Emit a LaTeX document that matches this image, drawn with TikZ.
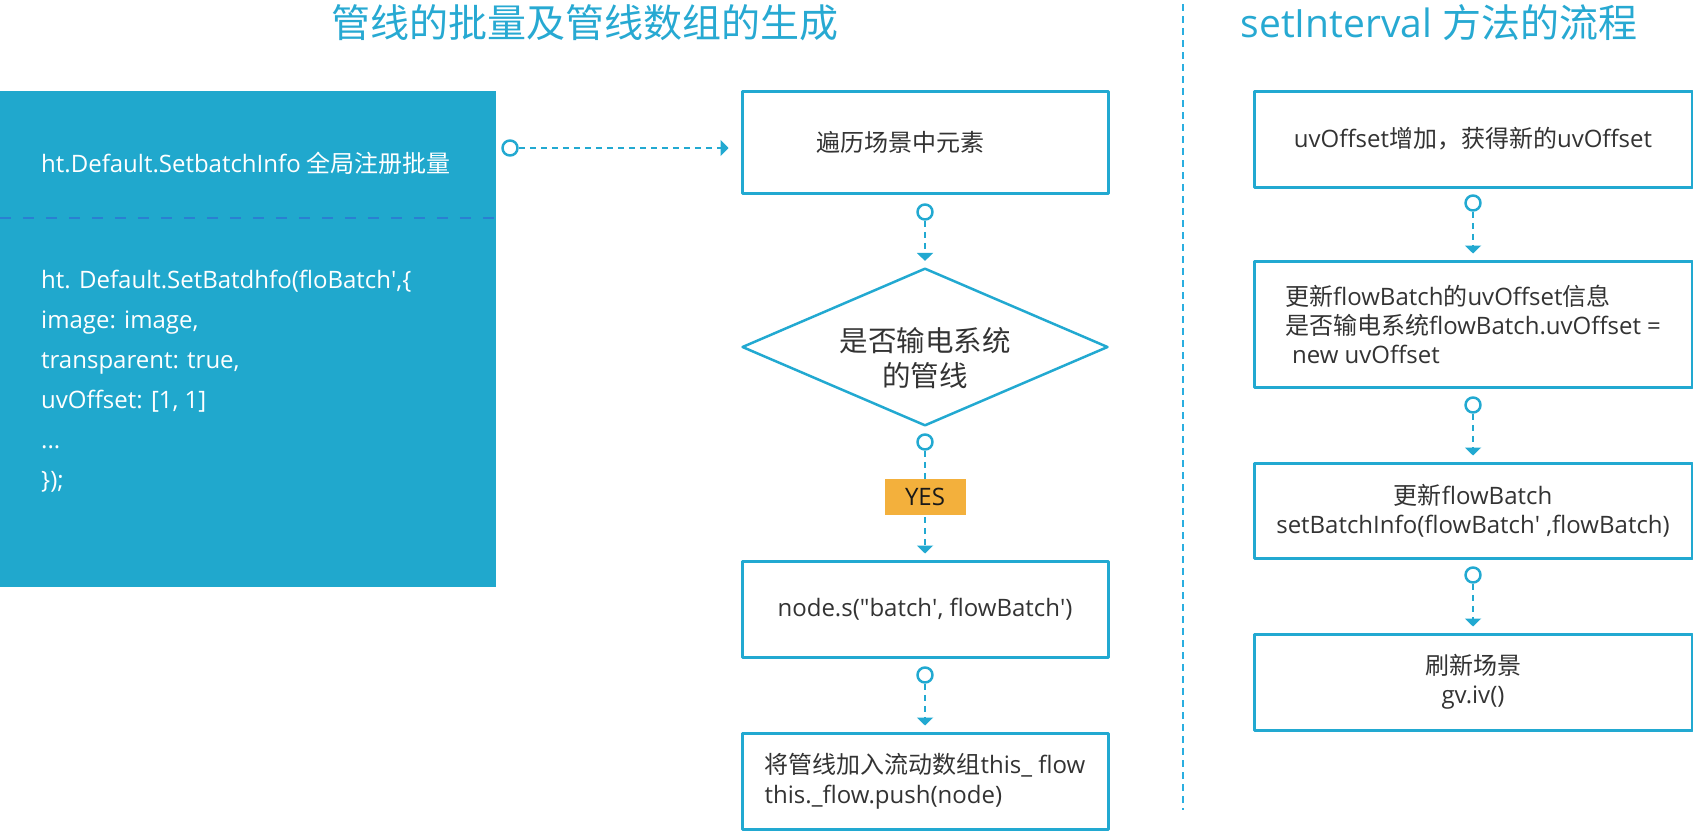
\documentclass[tikz,border=0pt]{standalone}
\usepackage{fontspec}
\setmainfont{Open Sans}
\newfontfamily\cjkfont{Noto Sans CJK SC}
\usetikzlibrary{arrows.meta,shapes.geometric}

% Chinese characters in the CJK font, the rest in Open Sans
\XeTeXinterchartokenstate=1
\chardef\cjkclass=7
\newcount\cjkcode
\cjkcode="3000
\loop
  \XeTeXcharclass\cjkcode=\cjkclass
  \ifnum\cjkcode<"9FFF \advance\cjkcode by 1
\repeat
\cjkcode="FF00
\loop
  \XeTeXcharclass\cjkcode=\cjkclass
  \ifnum\cjkcode<"FFEF \advance\cjkcode by 1
\repeat
\XeTeXinterchartoks 0 \cjkclass={\cjkfont}
\XeTeXinterchartoks 4095 \cjkclass={\cjkfont}
\XeTeXinterchartoks \cjkclass 0={\rmfamily}
\XeTeXinterchartoks \cjkclass 4095={\rmfamily}

\newcommand{\dotsrow}{...}

\definecolor{linec}{HTML}{22A9D1}
\definecolor{panelc}{HTML}{20A8CD}
\definecolor{sepc}{HTML}{2A7FD2}
\definecolor{divc}{HTML}{2AAEE0}
\definecolor{titlec}{HTML}{27A9D2}
\definecolor{yesc}{HTML}{F3B03C}
\definecolor{txtc}{HTML}{333333}

\tikzset{
  stepbox/.style={draw=linec, line width=3pt, minimum width=366pt, minimum height=96pt,
    inner sep=0pt, text=txtc, font=\fontsize{24}{30}\selectfont},
  sidebox/.style={stepbox, minimum width=438pt},
  decision/.style={diamond, draw=linec, line width=2.5pt, minimum width=366pt, minimum height=156pt,
    aspect=2.3, inner sep=0pt, text=txtc, align=center, font=\fontsize{28.5}{35}\selectfont},
  port/.style={circle, draw=linec, line width=2.5pt, minimum size=15pt, inner sep=0pt, fill=white},
  link/.style={draw=linec, line width=2.5pt, dash pattern=on 6pt off 5pt,
    -{Triangle[width=16pt,length=8pt]}, shorten >=6pt},
  yesbox/.style={fill=yesc, minimum width=81pt, minimum height=36pt, inner sep=0pt,
    text=black!90, font=\fontsize{24}{28}\selectfont},
  heading/.style={text=titlec, inner sep=0pt, font=\fontsize{39}{44}\selectfont},
  codeline/.style={anchor=base west, inner sep=0pt, text=white, font=\fontsize{24}{30}\selectfont}
}

\begin{document}
\begin{tikzpicture}[x=1pt, y=-1pt, line join=round]
\useasboundingbox (0,0) rectangle (1693,830);

% titles and divider
\node[heading] (t1) at (585,23) {管线的批量及管线数组的生成};
\node[heading] (t2) at (1439,23) {setInterval 方法的流程};
\draw[divc, line width=2.5pt, dash pattern=on 7pt off 5pt] (1183,4) -- (1183,810);

% left panel
\node[fill=panelc, minimum width=496pt, minimum height=496pt, inner sep=0pt] (pnl) at (248,339) {};
\draw[sepc, line width=2pt, dash pattern=on 11pt off 12pt] (pnl.west |- 0,218) -- (pnl.east |- 0,218);
\node[codeline] (phead) at (41,172) {ht.Default.SetbatchInfo 全局注册批量};
\foreach \codetxt [count=\i] in {{ht. Default.SetBatdhfo(floBatch\textquotesingle,\{},
    {image: image,}, {transparent: true,}, {uvOffset: [1, 1]}, {\dotsrow}, {\});}}
  \node[codeline] (code\i) at (41,248+40*\i) {\codetxt};

% middle flow
\node[stepbox, minimum height=102pt] (a1) at (925,142) {遍历场景中元素\hspace*{50pt}};
\node[decision] (dec) at (925,347) {\rule{0pt}{46pt}是否输电系统\\的管线};
\node[stepbox] (b1) at (925,609) {node.s(\textquotedbl batch\textquotesingle, flowBatch\textquotesingle)};
\node[stepbox, align=left, font=\fontsize{24}{30}\selectfont] (c1) at (925,781)
  {将管线加入流动数组this\_ flow\\this.\_flow.push(node)};

\node[port] (pa0) at (510,148) {};
\node[port] (pa1) at (925,212) {};
\node[port] (pa2) at (925,442) {};
\node[port] (pa3) at (925,675) {};

\draw[link, shorten >=12pt] (pa0) -- (pa0 -| a1.west);
\draw[link] (pa1) -- (dec);
\draw[link] (pa2) -- (b1);
\draw[link] (pa3) -- (c1);
\node[yesbox] (yes) at (925,497) {YES};

% right flow
\node[sidebox] (r1) at (1473,139) {uvOffset增加，获得新的uvOffset};
\node[sidebox, minimum height=126pt, align=left, font=\fontsize{24}{29}\selectfont] (r2) at (1473,324)
  {更新flowBatch的uvOffset信息\\是否输电系统flowBatch.uvOffset =\\\hspace*{7pt}new uvOffset};
\node[sidebox, minimum height=95pt, align=center, font=\fontsize{24}{29}\selectfont] (r3) at (1473,510.5)
  {更新flowBatch\\setBatchInfo(flowBatch\textquotesingle\ ,flowBatch)};
\node[sidebox, align=center, font=\fontsize{24}{29}\selectfont] (r4) at (1473,682) {刷新场景\\gv.iv()};

\node[port] (pb1) at (1473,203) {};
\node[port] (pb2) at (1473,405) {};
\node[port] (pb3) at (1473,575) {};

\draw[link] (pb1) -- (r2);
\draw[link] (pb2) -- (r3);
\draw[link] (pb3) -- (r4);
\end{tikzpicture}
\end{document}
